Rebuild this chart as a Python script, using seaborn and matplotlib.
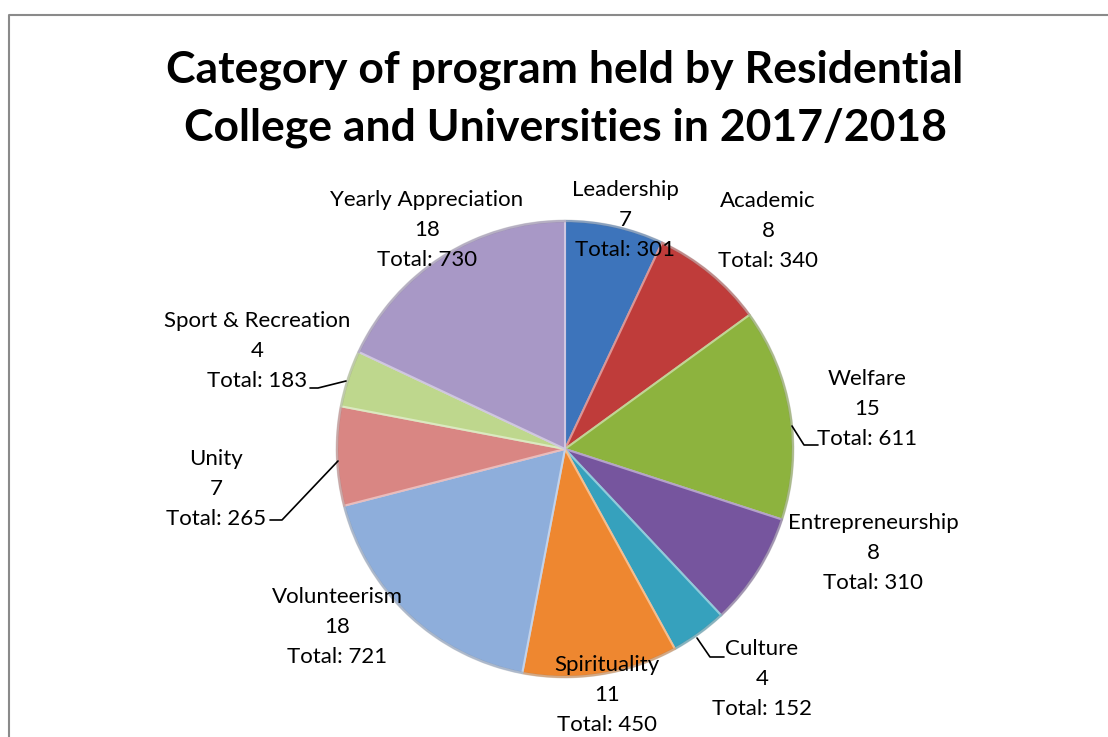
import seaborn as sns
import matplotlib.pyplot as plt
from matplotlib.colors import to_rgb

# data
categories = ["Leadership", "Academic", "Welfare", "Entrepreneurship", "Culture",
              "Spirituality", "Volunteerism", "Unity", "Sport & Recreation",
              "Yearly Appreciation"]
programs = [7, 8, 15, 8, 4, 11, 18, 7, 4, 18]
participants = [301, 340, 611, 310, 152, 450, 721, 265, 183, 730]

colors = ["#3d74bb", "#bf3c3a", "#8db33e", "#76559e", "#36a1bd",
          "#ee8730", "#8eaedb", "#d98683", "#bed78d", "#a898c6"]

W, H = 1108, 737


def py(y):
    # pixel row (from top) -> data y
    return H - y


# label block centres (pixel coords) and leader lines
label_pos = {
    "Leadership": (625, 220),
    "Academic": (768, 231),
    "Welfare": (867, 409),
    "Entrepreneurship": (873, 553),
    "Culture": (762, 679),
    "Spirituality": (607, 695),
    "Volunteerism": (337, 627),
    "Unity": (216, 489),
    "Sport & Recreation": (257, 351),
    "Yearly Appreciation": (427, 230),
}
leaders = {
    "Welfare": [(792, 426), (804, 445), (818, 445)],
    "Culture": [(697, 638), (710, 657), (724, 657)],
    "Unity": [(338, 461), (282, 520), (270, 520)],
    "Sport & Recreation": [(346, 381), (318, 388), (310, 388)],
}

sns.set_theme(style="white")
plt.rcParams["font.family"] = ["Lato", "DejaVu Sans"]

fig = plt.figure(figsize=(W / 100, H / 100), dpi=100)
ax = fig.add_axes([0, 0, 1, 1])


def lighten(c, f=0.45):
    r, g, b = to_rgb(c)
    return (r + (1 - r) * f, g + (1 - g) * f, b + (1 - b) * f)


wedges, _ = ax.pie(programs, colors=colors, startangle=90, counterclock=False,
                   center=(565, py(449)), radius=228,
                   wedgeprops=dict(linewidth=1.5))
for w, c in zip(wedges, colors):
    w.set_edgecolor(lighten(c))

# soft darker rim for a bit of depth
rim = plt.Circle((565, py(449)), 228, fill=False, lw=2, color="#6e6e6e", alpha=0.25)
ax.add_patch(rim)

for cat, n, tot in zip(categories, programs, participants):
    x, y = label_pos[cat]
    ax.text(x, py(y), f"{cat}\n{n}\nTotal: {tot}", ha="center", va="center",
            multialignment="center", fontsize=16, linespacing=1.62, color="black")

for cat, pts in leaders.items():
    ax.plot([p[0] for p in pts], [py(p[1]) for p in pts], color="black", lw=1.2)

ax.text(565, py(99), "Category of program held by Residential\nCollege and Universities in 2017/2018",
        ha="center", va="center", fontsize=32, fontweight="bold", linespacing=1.53,
        color="black")

# chart border
ax.plot([8.5, 8.5, W], [0, py(14.5), py(14.5)], color="#8a8a8a", lw=1.5)

ax.set_xlim(0, W)
ax.set_ylim(0, H)
ax.set_aspect("equal")
ax.axis("off")

fig.savefig("out.png", dpi=100, facecolor="white")
